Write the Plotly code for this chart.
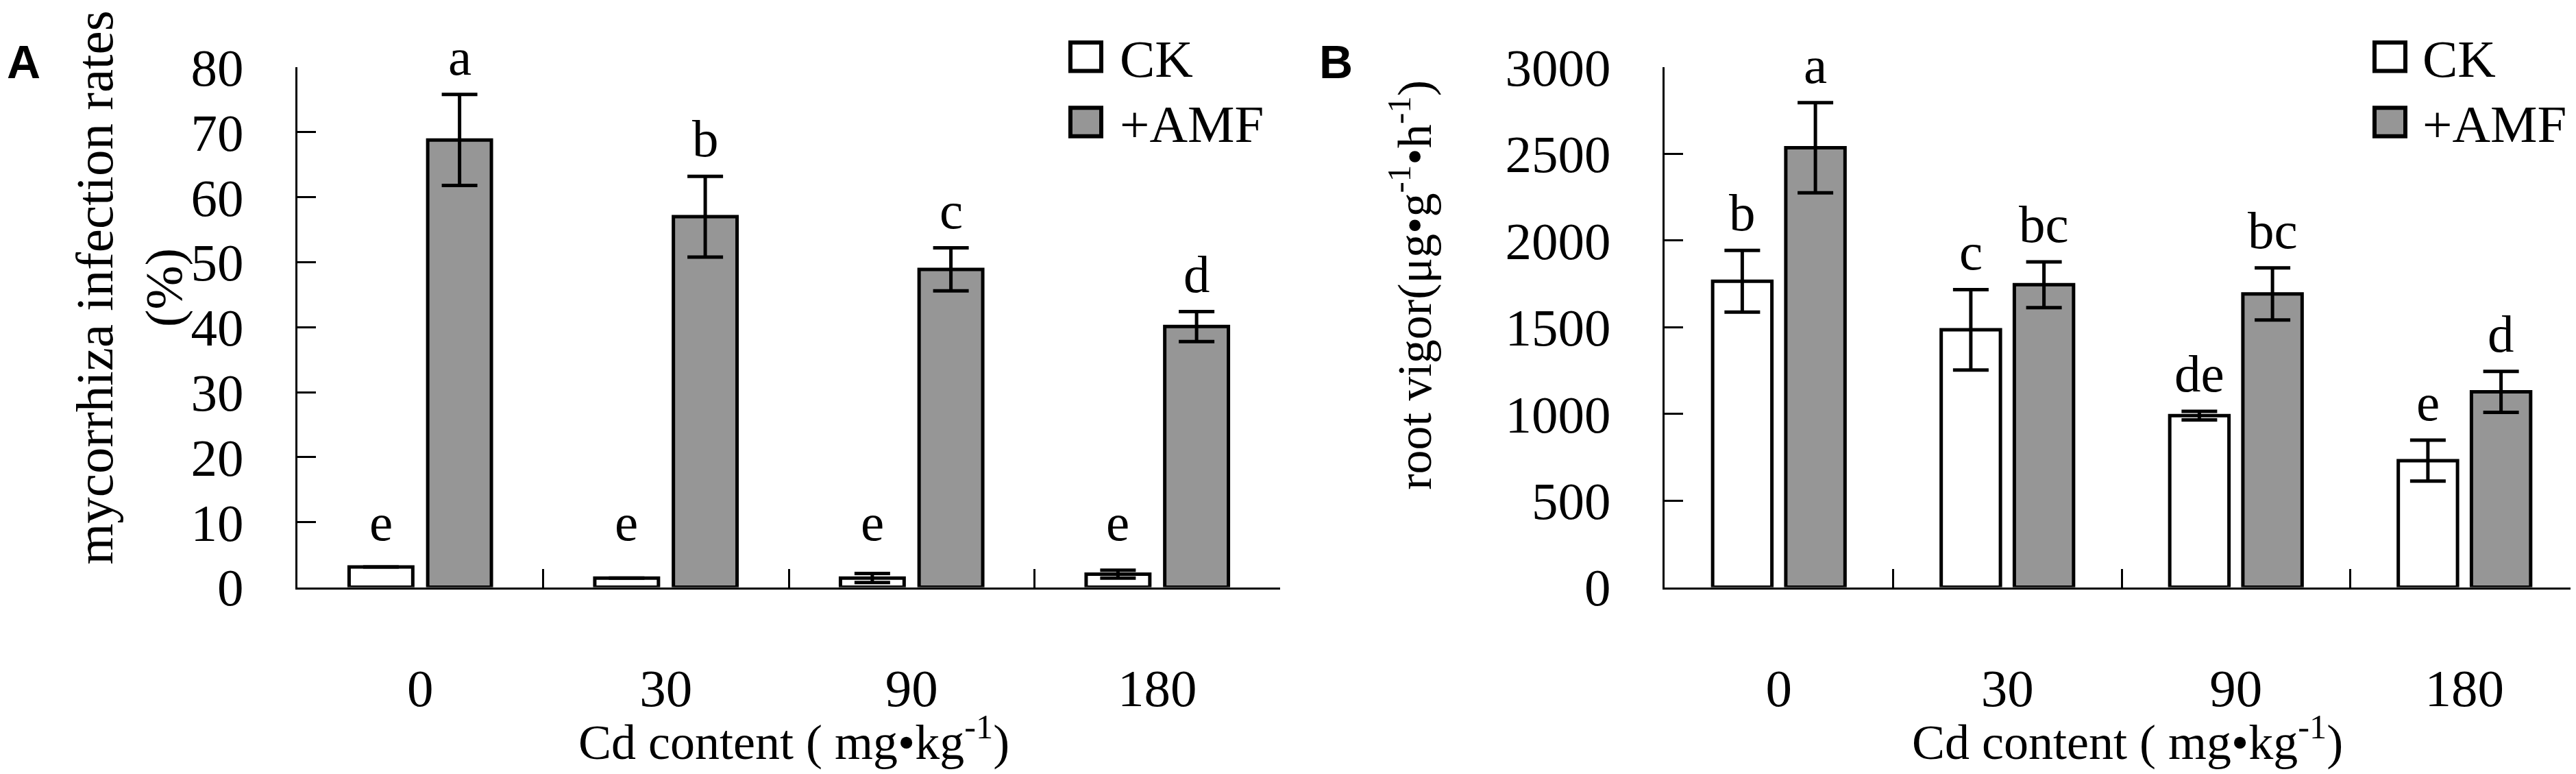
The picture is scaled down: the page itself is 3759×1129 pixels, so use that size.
import plotly.graph_objects as go

# Cd levels on the x axis
cd_levels = ["0", "30", "90", "180"]

# A: mycorrhiza infection rates (%)
infect_ck = [3.1, 1.4, 1.4, 2.0]
infect_ck_err = [0, 0, 0.7, 0.6]
infect_amf = [68.8, 57.0, 48.9, 40.1]
infect_amf_err = [7.0, 6.2, 3.3, 2.3]
infect_ck_letters = ["e", "e", "e", "e"]
infect_amf_letters = ["a", "b", "c", "d"]

# B: root vigor (ug g-1 h-1)
vigor_ck = [1765, 1485, 990, 730]
vigor_ck_err = [178, 232, 25, 118]
vigor_amf = [2535, 1745, 1692, 1127]
vigor_amf_err = [260, 132, 150, 118]
vigor_ck_letters = ["b", "c", "de", "e"]
vigor_amf_letters = ["a", "bc", "bc", "d"]

W, H = 3759, 1129
SERIF = "Liberation Serif, Times New Roman, serif"
SANS = "Liberation Sans, Arial, sans-serif"
FS = 77
GREY = "#969696"


def fx(p):
    return p / W


def fy(p):
    return 1 - p / H


fig = go.Figure()


def add_panel(ck, ck_err, amf, amf_err, ck_let, amf_let, xa, ya, floor):
    series = [("CK", ck, ck_err, "white", ck_let, -0.16),
              ("+AMF", amf, amf_err, GREY, amf_let, 0.16)]
    for name, vals, err, fill, lets, off in series:
        fig.add_trace(go.Bar(
            x=cd_levels, y=vals, name=name, xaxis=xa, yaxis=ya,
            marker=dict(color=fill, line=dict(color="black", width=5)),
            error_y=dict(type="data", array=err, visible=True,
                         color="black", thickness=5, width=26),
            showlegend=False,
        ))
        # significance letters above each bar
        for i in range(len(cd_levels)):
            fig.add_annotation(
                x=i + off, y=max(vals[i] + err[i], floor),
                xref=xa, yref=ya, text=lets[i], showarrow=False,
                yanchor="bottom", yshift=10,
                font=dict(family=SERIF, size=FS, color="black"),
            )


add_panel(infect_ck, infect_ck_err, infect_amf, infect_amf_err,
          infect_ck_letters, infect_amf_letters, "x", "y", 4.2)
add_panel(vigor_ck, vigor_ck_err, vigor_amf, vigor_amf_err,
          vigor_ck_letters, vigor_amf_letters, "x2", "y2", 0)

axis_common = dict(
    showline=True, linecolor="black", linewidth=3,
    ticks="inside", ticklen=27, tickwidth=3, tickcolor="black",
    showgrid=False, zeroline=False,
    tickfont=dict(family=SERIF, size=FS, color="black"),
)

ydom = [fy(873), fy(52)]
fig.update_layout(
    width=W, height=H,
    margin=dict(l=0, r=0, t=0, b=0),
    paper_bgcolor="white", plot_bgcolor="white",
    barmode="group", bargap=0.36, bargroupgap=0.19,
    xaxis=dict(domain=[fx(426), fx(1860)], type="category",
               tickson="boundaries", ticklabelstandoff=78, anchor="y", **axis_common),
    yaxis=dict(domain=ydom, range=[0, 80], dtick=10, anchor="x",
               ticklabelstandoff=60, **axis_common),
    xaxis2=dict(domain=[fx(2421), fx(3755)], type="category",
                tickson="boundaries", ticklabelstandoff=78, anchor="y2", **axis_common),
    yaxis2=dict(domain=ydom, range=[0, 3000], dtick=500, anchor="x2",
                ticklabelstandoff=60, **axis_common),
)

# axis titles
title_font = dict(family=SERIF, size=FS, color="black")
fig.add_annotation(x=fx(180), y=fy(400), xref="paper", yref="paper",
                   text="mycorrhiza infection rates<br>(%)", textangle=-90,
                   showarrow=False, xanchor="center", yanchor="middle", font=title_font)
fig.add_annotation(x=fx(2050), y=fy(396), xref="paper", yref="paper",
                   text="root vigor(μg•g<sup>-1</sup>•h<sup>-1</sup>)", textangle=-90,
                   showarrow=False, xanchor="center", yanchor="middle",
                   font=dict(family=SERIF, size=70, color="black"))
for cx in (1150, 3096):
    fig.add_annotation(x=fx(cx), y=fy(1112), xref="paper", yref="paper",
                       text="Cd content ( mg•kg<sup>-1</sup>)", showarrow=False,
                       xanchor="center", yanchor="middle",
                       font=dict(family=SERIF, size=72, color="black"))

# panel letters
for px_left, lab in ((0, "A"), (1915, "B")):
    fig.add_annotation(x=fx(px_left), y=1, xref="paper", yref="paper", text=f"<b>{lab}</b>",
                       showarrow=False, xanchor="left", yanchor="top",
                       font=dict(family=SANS, size=68, color="black"))

# legends drawn as boxes + text
for box_left, text_left in ((1554, 1624), (3457, 3525)):
    for yc, fill, name in ((35.5, "white", "CK"), (138.5, GREY, "+AMF")):
        fig.add_shape(type="rect", xref="paper", yref="paper",
                      x0=fx(box_left), x1=fx(box_left + 45),
                      y0=fy(yc + 22.5), y1=fy(yc - 22.5),
                      line=dict(color="black", width=6), fillcolor=fill)
        fig.add_annotation(x=fx(text_left), y=fy(yc + 3), xref="paper", yref="paper",
                           text=name, showarrow=False, xanchor="left", yanchor="middle",
                           font=title_font)

fig.write_html("out.html")
